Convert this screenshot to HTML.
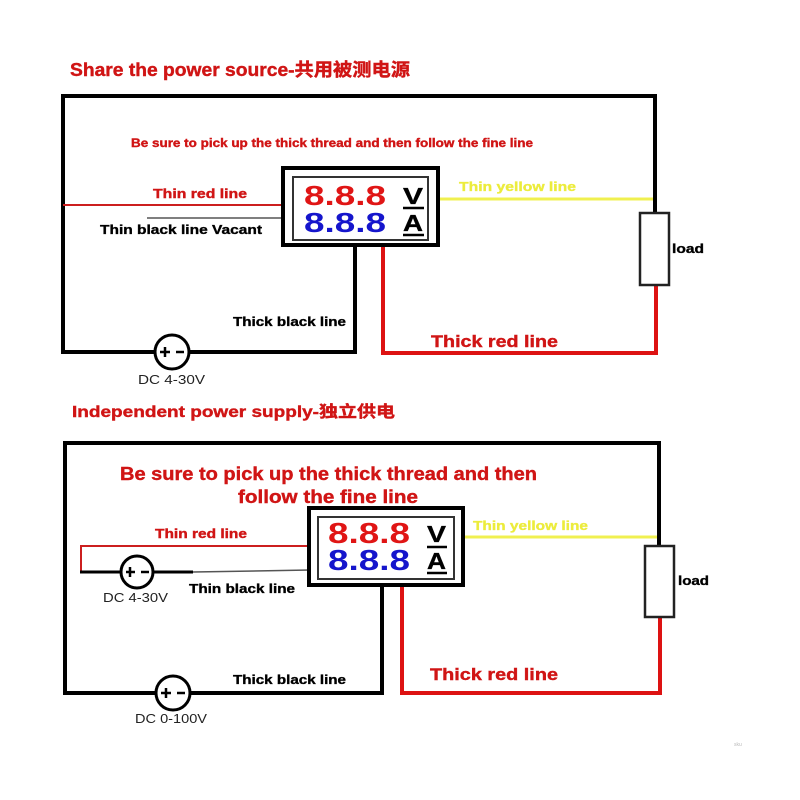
<!DOCTYPE html>
<html><head><meta charset="utf-8"><style>
html,body{margin:0;padding:0;background:#fff;}
svg{display:block;}
text{font-family:"Liberation Sans","Noto Sans CJK SC",sans-serif;}
.lbl{font-weight:bold;fill:#000;stroke:#000;stroke-width:0.35;}
.red{font-weight:bold;fill:#d01515;stroke:#d01515;stroke-width:0.4;}
.yel{font-weight:bold;fill:#ecec3c;stroke:#ecec3c;stroke-width:0.35;}
.dig{font-weight:bold;}
</style></head><body>
<svg width="800" height="800" viewBox="0 0 800 800" xmlns="http://www.w3.org/2000/svg">
<rect width="800" height="800" fill="#fff"/>

<!-- ============ TOP DIAGRAM ============ -->
<text x="70" y="76" class="red" font-size="18" textLength="340" lengthAdjust="spacingAndGlyphs">Share the power source-共用被测电源</text>
<text x="131" y="147" class="red" font-size="12" textLength="402" lengthAdjust="spacingAndGlyphs">Be sure to pick up the thick thread and then follow the fine line</text>

<!-- outer black -->
<path d="M63,353 V96 H655 V213" fill="none" stroke="#000" stroke-width="4"/>
<line x1="61" y1="352" x2="156" y2="352" stroke="#000" stroke-width="4"/>
<line x1="188" y1="352" x2="357" y2="352" stroke="#000" stroke-width="4"/>
<line x1="355" y1="245" x2="355" y2="354" stroke="#000" stroke-width="4"/>
<circle cx="172" cy="352" r="17" fill="#fff" stroke="#000" stroke-width="3"/>
<line x1="160" y1="352" x2="170" y2="352" stroke="#000" stroke-width="2.5"/>
<line x1="165" y1="347" x2="165" y2="357" stroke="#000" stroke-width="2.5"/>
<line x1="176" y1="352" x2="184" y2="352" stroke="#000" stroke-width="2.5"/>
<text x="138" y="384" font-size="13" fill="#222" textLength="67" lengthAdjust="spacingAndGlyphs">DC 4-30V</text>

<!-- thin wires -->
<line x1="63" y1="205" x2="284" y2="205" stroke="#cc1f1f" stroke-width="2"/>
<line x1="147" y1="218" x2="284" y2="218" stroke="#555" stroke-width="1.5"/>
<text x="153" y="198" class="red" font-size="13" textLength="94" lengthAdjust="spacingAndGlyphs">Thin red line</text>
<text x="100" y="234" class="lbl" font-size="13" textLength="162" lengthAdjust="spacingAndGlyphs">Thin black line Vacant</text>

<!-- yellow -->
<line x1="440" y1="199" x2="653" y2="199" stroke="#f0f050" stroke-width="3"/>
<text x="459" y="191" class="yel" font-size="13" textLength="117" lengthAdjust="spacingAndGlyphs">Thin yellow line</text>

<!-- red thick -->
<path d="M383,245 V353 H656 V285" fill="none" stroke="#dd1212" stroke-width="4"/>
<text x="431" y="347" class="red" font-size="17" textLength="127" lengthAdjust="spacingAndGlyphs">Thick red line</text>
<text x="233" y="326" class="lbl" font-size="13" textLength="113" lengthAdjust="spacingAndGlyphs">Thick black line</text>

<!-- load -->
<rect x="640" y="213" width="29" height="72" fill="#fff" stroke="#222" stroke-width="2.5"/>
<text x="672" y="253" class="lbl" font-size="13" textLength="32" lengthAdjust="spacingAndGlyphs">load</text>

<!-- meter -->
<rect x="283" y="168" width="155" height="77" fill="#fff" stroke="#000" stroke-width="4"/>
<rect x="293" y="177" width="135" height="63" fill="#fff" stroke="#333" stroke-width="2"/>
<text x="304" y="205" class="dig" font-size="28" fill="#e01515" textLength="82" lengthAdjust="spacingAndGlyphs">8.8.8</text>
<text x="304" y="232" class="dig" font-size="28" fill="#1515cc" textLength="82" lengthAdjust="spacingAndGlyphs">8.8.8</text>
<text x="403" y="204" class="lbl" font-size="23" textLength="20" lengthAdjust="spacingAndGlyphs">V</text>
<line x1="403" y1="208" x2="424" y2="208" stroke="#000" stroke-width="2.5"/>
<text x="403" y="231" class="lbl" font-size="23" textLength="20" lengthAdjust="spacingAndGlyphs">A</text>
<line x1="403" y1="235" x2="424" y2="235" stroke="#000" stroke-width="2.5"/>

<!-- ============ BOTTOM DIAGRAM ============ -->
<text x="72" y="417" class="red" font-size="16" textLength="323" lengthAdjust="spacingAndGlyphs">Independent  power  supply-独立供电</text>
<text x="120" y="480" class="red" font-size="18" textLength="417" lengthAdjust="spacingAndGlyphs">Be sure to pick up the thick thread and then</text>
<text x="238" y="503" class="red" font-size="18" textLength="180" lengthAdjust="spacingAndGlyphs">follow the fine line</text>

<path d="M65,695 V443 H659 V546" fill="none" stroke="#000" stroke-width="4"/>
<line x1="63" y1="693" x2="157" y2="693" stroke="#000" stroke-width="4"/>
<line x1="189" y1="693" x2="384" y2="693" stroke="#000" stroke-width="4"/>
<line x1="382" y1="585" x2="382" y2="695" stroke="#000" stroke-width="4"/>
<circle cx="173" cy="693" r="17" fill="#fff" stroke="#000" stroke-width="3"/>
<line x1="161" y1="693" x2="171" y2="693" stroke="#000" stroke-width="2.5"/>
<line x1="166" y1="688" x2="166" y2="698" stroke="#000" stroke-width="2.5"/>
<line x1="177" y1="693" x2="185" y2="693" stroke="#000" stroke-width="2.5"/>
<text x="135" y="723" font-size="13" fill="#222" textLength="72" lengthAdjust="spacingAndGlyphs">DC 0-100V</text>
<text x="233" y="684" class="lbl" font-size="13" textLength="113" lengthAdjust="spacingAndGlyphs">Thick black line</text>

<!-- thin loop with small source -->
<path d="M310,546 H81 V572" fill="none" stroke="#cc1f1f" stroke-width="2"/>
<line x1="80" y1="572" x2="193" y2="572" stroke="#000" stroke-width="3"/>
<line x1="193" y1="572" x2="310" y2="570" stroke="#555" stroke-width="1.5"/>
<circle cx="137" cy="572" r="16" fill="#fff" stroke="#000" stroke-width="3"/>
<line x1="126" y1="572" x2="135" y2="572" stroke="#000" stroke-width="2.5"/>
<line x1="130" y1="567" x2="130" y2="577" stroke="#000" stroke-width="2.5"/>
<line x1="141" y1="572" x2="149" y2="572" stroke="#000" stroke-width="2.5"/>
<text x="103" y="602" font-size="13" fill="#222" textLength="65" lengthAdjust="spacingAndGlyphs">DC 4-30V</text>
<text x="155" y="538" class="red" font-size="13" textLength="92" lengthAdjust="spacingAndGlyphs">Thin red line</text>
<text x="189" y="593" class="lbl" font-size="13" textLength="106" lengthAdjust="spacingAndGlyphs">Thin black line</text>

<!-- yellow -->
<line x1="463" y1="537" x2="657" y2="537" stroke="#f0f050" stroke-width="3"/>
<text x="473" y="530" class="yel" font-size="13" textLength="115" lengthAdjust="spacingAndGlyphs">Thin yellow line</text>

<!-- red thick -->
<path d="M402,585 V693 H660 V617" fill="none" stroke="#dd1212" stroke-width="4"/>
<text x="430" y="680" class="red" font-size="17" textLength="128" lengthAdjust="spacingAndGlyphs">Thick red line</text>

<!-- load -->
<rect x="645" y="546" width="29" height="71" fill="#fff" stroke="#222" stroke-width="2.5"/>
<text x="678" y="585" class="lbl" font-size="13" textLength="31" lengthAdjust="spacingAndGlyphs">load</text>

<!-- meter -->
<rect x="309" y="508" width="154" height="77" fill="#fff" stroke="#000" stroke-width="4"/>
<rect x="318" y="517" width="136" height="62" fill="#fff" stroke="#333" stroke-width="2"/>
<text x="328" y="543" class="dig" font-size="29" fill="#e01515" textLength="82" lengthAdjust="spacingAndGlyphs">8.8.8</text>
<text x="328" y="570" class="dig" font-size="29" fill="#1515cc" textLength="82" lengthAdjust="spacingAndGlyphs">8.8.8</text>
<text x="427" y="542" class="lbl" font-size="23" textLength="19" lengthAdjust="spacingAndGlyphs">V</text>
<line x1="427" y1="547" x2="447" y2="547" stroke="#000" stroke-width="2.5"/>
<text x="427" y="569" class="lbl" font-size="23" textLength="19" lengthAdjust="spacingAndGlyphs">A</text>
<line x1="427" y1="573" x2="447" y2="573" stroke="#000" stroke-width="2.5"/>

<text x="734" y="746" font-size="5" fill="#bbb">sku</text>
</svg>
</body></html>
